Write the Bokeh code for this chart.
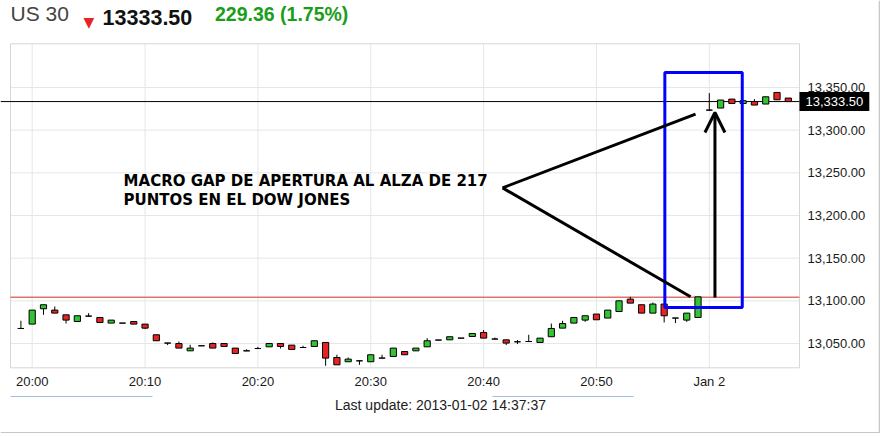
from bokeh.plotting import figure
from bokeh.models import (Range1d, FixedTicker, NumeralTickFormatter, Label, LinearAxis,
                          Arrow, OpenHead, ColumnDataSource)
from bokeh.core.properties import value
from bokeh.embed import file_html
from bokeh.resources import INLINE

# ---------------- data ----------------
minutes = list(range(-1, 68))
opens = [13067.6, 13072.7, 13090.7, 13089.1, 13083.6, 13075.8, 13082.1, 13080.5, 13073.9,
         13073.9, 13075.8, 13072.7, 13060.2, 13050.5, 13050.0, 13041.4, 13047.3, 13050.0, 13050.0,
         13044.6, 13041.4, 13044.1, 13046.1, 13050.0, 13048.1, 13045.3, 13046.5, 13051.2, 13033.6,
         13028.6, 13029.7, 13028.6, 13032.9, 13034.8, 13040.6, 13041.4, 13046.1, 13054.0, 13054.3,
         13056.3, 13058.2, 13062.9, 13055.2, 13054.3, 13052.0, 13052.3, 13051.2, 13057.9, 13068.0,
         13073.9, 13077.4, 13084.5, 13079.8, 13087.5, 13102.0, 13095.4, 13085.6, 13096.2, 13079.8,
         13077.4, 13080.5, 13323.5, 13325.9, 13336.4, 13331.3, 13333.6, 13330.6, 13344.2, 13337.6]
highs = [13076.6, 13089.1, 13095.4, 13093.4, 13083.6, 13082.5, 13085.6, 13080.5, 13077.4,
         13073.9, 13075.8, 13072.7, 13060.2, 13050.5, 13052.3, 13048.5, 13047.3, 13051.2, 13050.0,
         13044.6, 13043.2, 13046.1, 13050.0, 13050.0, 13048.1, 13047.3, 13053.2, 13051.2, 13036.8,
         13033.6, 13029.7, 13036.8, 13036.8, 13044.6, 13040.6, 13044.6, 13056.3, 13054.0, 13057.9,
         13056.3, 13061.7, 13065.7, 13057.0, 13054.3, 13054.0, 13060.2, 13056.3, 13073.4, 13076.6,
         13080.5, 13082.5, 13084.5, 13089.1, 13100.0, 13104.7, 13095.4, 13098.0, 13096.2, 13079.8,
         13085.6, 13104.7, 13343.4, 13335.3, 13336.4, 13335.6, 13336.4, 13339.1, 13344.2, 13337.6]
lows = [13067.6, 13072.7, 13083.6, 13085.6, 13073.4, 13075.8, 13081.3, 13074.6, 13073.9,
        13073.9, 13072.7, 13066.9, 13053.2, 13048.1, 13044.6, 13041.4, 13047.3, 13044.6, 13046.5,
        13038.3, 13041.4, 13044.1, 13046.1, 13044.1, 13043.0, 13045.3, 13046.5, 13023.9, 13025.0,
        13028.6, 13025.0, 13028.6, 13032.9, 13034.8, 13036.8, 13041.4, 13046.1, 13054.0, 13054.3,
        13056.3, 13058.2, 13056.3, 13055.2, 13048.1, 13049.3, 13052.3, 13051.2, 13057.9, 13068.0,
        13073.9, 13075.4, 13077.8, 13079.8, 13087.5, 13097.3, 13085.6, 13085.6, 13074.6, 13073.9,
        13075.4, 13080.5, 13322.7, 13325.9, 13331.3, 13331.3, 13329.4, 13330.6, 13335.6, 13333.5]
closes = [13067.6, 13089.1, 13095.4, 13085.6, 13077.4, 13082.5, 13082.1, 13074.6, 13077.4,
          13073.9, 13072.7, 13068.0, 13053.2, 13050.5, 13044.6, 13044.6, 13047.3, 13044.6, 13046.5,
          13038.3, 13041.4, 13044.1, 13050.0, 13046.5, 13043.0, 13045.3, 13053.2, 13032.9, 13025.0,
          13031.7, 13029.7, 13036.8, 13032.9, 13044.6, 13036.8, 13044.6, 13053.2, 13054.0, 13057.9,
          13056.3, 13061.7, 13056.3, 13055.2, 13050.5, 13052.0, 13052.3, 13056.3, 13067.6, 13073.4,
          13080.5, 13082.5, 13077.8, 13089.1, 13100.0, 13097.3, 13085.6, 13096.2, 13082.5, 13079.8,
          13085.6, 13104.7, 13323.5, 13335.3, 13331.3, 13334.5, 13329.4, 13339.1, 13335.6, 13333.5]

x_ticks = [0, 10, 20, 30, 40, 50, 60]
x_tick_labels = ["20:00", "20:10", "20:20", "20:30", "20:40", "20:50", "Jan 2"]
y_ticks = [13050, 13100, 13150, 13200, 13250, 13300, 13350]

last_price = 13333.50
prev_close = 13104.14
change = 229.36
change_pct = 1.75
last_update = "Last update: 2013-01-02 14:37:37"

note_lines = ["MACRO GAP DE APERTURA AL ALZA DE 217", "PUNTOS EN EL DOW JONES"]

# chart window (minutes after 20:00 / index points)
plot_x0, plot_x1 = -1.923, 67.99
plot_y0, plot_y1 = 13021.5, 13401.2
# whole canvas in the same units
canvas_x0, canvas_x1 = -2.809, 75.17
canvas_y0, canvas_y1 = 12944.52, 13451.94

# annotation geometry
note_x, note_y = [8.10, 8.10], [13241.0, 13217.6]
vertex = (41.68, 13232.4)
line_ends_x = [58.78, 58.34]
line_ends_y = [13318.8, 13104.7]
arrow_x, arrow_y0, arrow_y1 = 60.5, 13103.9, 13320.7
box_l, box_r, box_b, box_t = 56.06, 62.92, 13092.2, 13367.6
header_y = 13423.8
footer_y = 12968.0
bar_y0, bar_y1 = 12987.3, 12988.5
bars_l, bars_r = [-1.923, 40.79], [10.66, 53.28]

# ---------------- derived ----------------
GREEN = "#33c433"
RED = "#e82323"
colors, tops, bottoms = [], [], []
for o, c in zip(opens, closes):
    colors.append(GREEN if c > o else (RED if c < o else "black"))
    tops.append(max(o, c))
    bottoms.append(min(o, c))
src = ColumnDataSource(dict(x=minutes, high=highs, low=lows, top=tops, bottom=bottoms, color=colors))

p = figure(width=880, height=433, output_backend="svg", toolbar_location=None,
           x_range=Range1d(canvas_x0, canvas_x1), y_range=Range1d(canvas_y0, canvas_y1),
           x_axis_location=None, y_axis_location=None,
           min_border_left=0, min_border_right=0, min_border_top=0, min_border_bottom=0)
p.background_fill_color = "white"
p.border_fill_color = "white"
p.outline_line_color = None
p.xgrid.visible = False
p.ygrid.visible = False

xaxis = LinearAxis(fixed_location=plot_y0, ticker=FixedTicker(ticks=x_ticks),
                   major_label_overrides={t: l for t, l in zip(x_ticks, x_tick_labels)},
                   major_label_standoff=6)
yaxis = LinearAxis(fixed_location=plot_x1, ticker=FixedTicker(ticks=y_ticks),
                   formatter=NumeralTickFormatter(format="0,0.00"), major_label_standoff=8)
for ax in (xaxis, yaxis):
    ax.axis_line_color = None
    ax.major_tick_line_color = None
    ax.minor_tick_line_color = None
    ax.major_tick_out = 0
    ax.major_tick_in = 0
    ax.minor_tick_out = 0
    ax.major_label_text_font = "Liberation Sans"
    ax.major_label_text_font_size = "13px"
    ax.major_label_text_color = "#1a1a1a"
p.add_layout(xaxis, "below")
p.add_layout(yaxis, "right")

GRID = "#e6e6e6"
p.segment(x0=x_ticks, y0=[plot_y0] * len(x_ticks), x1=x_ticks, y1=[plot_y1] * len(x_ticks),
          line_color=GRID, line_width=1)
p.segment(x0=[plot_x0] * len(y_ticks), y0=y_ticks, x1=[plot_x1] * len(y_ticks), y1=y_ticks,
          line_color=GRID, line_width=1)
p.quad(left=[plot_x0], right=[plot_x1], bottom=[plot_y0], top=[plot_y1],
       fill_color=None, line_color="#d6d6d6", line_width=1)

# reference lines
p.segment(x0=[plot_x0], y0=[prev_close], x1=[plot_x1], y1=[prev_close],
          line_color="#e27070", line_width=1.5)
p.segment(x0=[canvas_x0], y0=[last_price], x1=[plot_x1], y1=[last_price],
          line_color="black", line_width=1)

# candles
p.segment(x0="x", y0="high", x1="x", y1="low", source=src, line_color="black", line_width=1)
p.vbar(x="x", top="top", bottom="bottom", width=0.55, source=src,
       fill_color="color", line_color="black", line_width=1)

# annotations
p.quad(left=[box_l], right=[box_r], bottom=[box_b], top=[box_t],
       fill_color=None, line_color="#0000ff", line_width=3)
p.segment(x0=[vertex[0]] * 2, y0=[vertex[1]] * 2, x1=line_ends_x, y1=line_ends_y,
          line_color="black", line_width=3)
p.add_layout(Arrow(end=OpenHead(size=20, line_width=3, line_color="black"),
                   x_start=arrow_x, y_start=arrow_y0, x_end=arrow_x, y_end=arrow_y1,
                   line_width=3, line_color="black"))
p.text(x=note_x, y=note_y, text=note_lines, text_font=value("DejaVu Sans"),
       text_font_style="bold", text_font_size="15px", text_color="black",
       text_baseline="alphabetic")

# price box on the axis
p.add_layout(Label(x=plot_x1, y=last_price, text=f"{last_price:,.2f}", text_color="white",
                   text_font="Liberation Sans", text_font_size="13px",
                   text_align="left", text_baseline="middle",
                   background_fill_color="black", padding=(6, 5)))

# header
p.add_layout(Label(x=plot_x0, y=header_y, text="US 30",
                   text_font="Liberation Sans", text_font_size="21px", text_color="#444444"))
p.add_layout(Label(x=5.033, y=header_y + 3.5, text="\u25bc",
                   text_font="DejaVu Sans", text_font_size="14px", text_color="#e82323",
                   text_align="center", text_baseline="middle"))
p.add_layout(Label(x=6.238, y=header_y, text=f"{last_price:.2f}",
                   text_font="Liberation Sans", text_font_size="21.5px", text_font_style="bold",
                   text_color="#111111"))
p.add_layout(Label(x=16.2, y=header_y, text=f"{change:.2f} ({change_pct:.2f}%)",
                   text_font="Liberation Sans", text_font_size="19.5px", text_font_style="bold",
                   text_color="#1a9e1a"))

# footer
p.quad(left=bars_l, right=bars_r, bottom=[bar_y0] * 2, top=[bar_y1] * 2,
       fill_color="#9fbfdf", line_color=None)
p.add_layout(Label(x=36.18, y=footer_y, text=last_update, text_align="center",
                   text_font="Liberation Sans", text_font_size="14px", text_color="#222222"))
# outer frame (bottom and right edges)
p.segment(x0=[canvas_x0, 75.08], y0=[12945.3, canvas_y1], x1=[75.08, 75.08], y1=[12945.3, 12945.3],
          line_color="#c8c8c8", line_width=1.5)

open("out.html", "w").write(file_html(p, INLINE))
